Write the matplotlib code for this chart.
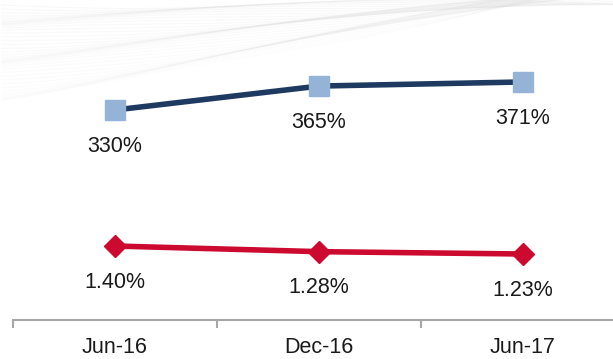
import numpy as np
import matplotlib
matplotlib.use("Agg")
import matplotlib.pyplot as plt

plt.rcParams['font.family'] = ['Liberation Sans', 'DejaVu Sans']

periods = ["Jun-16", "Dec-16", "Jun-17"]
coverage = [330, 365, 371]          # top series, %
npl_ratio = [1.40, 1.28, 1.23]      # bottom series, %

NAVY = "#1f3a60"
LIGHT_BLUE = "#95b3d7"
RED = "#cc0a30"
AXIS_GRAY = "#a6a6a6"
TEXT = "#1a1a1a"
FS = 15.5

W, H = 613, 359
fig = plt.figure(figsize=(W / 100, H / 100), dpi=100)

# faint swoosh pattern in the top-left background
bg = fig.add_axes([0, 0, 1, 1], zorder=0)
bg.set_xlim(0, W)
bg.set_ylim(H, 0)
bg.axis("off")
xs = np.linspace(-20, W + 20, 300)
for i in range(40):
    t = i / 39
    base = 5 + 95 * t
    y = base - (base - 2 + 25 * t) * (xs / W) ** 1.2 + 4 * np.sin(xs / 90 + i * 0.4)
    bg.plot(xs, y, color="#d8d8d8", lw=0.8, alpha=0.18 * (1 - 0.6 * t))

ax_bottom = 320 / H
ax = fig.add_axes([13 / W, 1 - ax_bottom, 612 / W, ax_bottom], zorder=2)
ax.patch.set_visible(False)
ax2 = ax.twinx()

x = np.arange(len(periods))

ax.plot(x, npl_ratio, color=RED, lw=4, marker="D", markersize=11.5,
        markerfacecolor=RED, markeredgecolor=RED, zorder=3, clip_on=False)
ax2.plot(x, coverage, color=NAVY, lw=4, marker="s", markersize=15,
         markerfacecolor=LIGHT_BLUE, markeredgecolor=LIGHT_BLUE, zorder=3, clip_on=False)

for xi, v in zip(x, npl_ratio):
    ax.annotate(f"{v:.2f}%", (xi, v), xytext=(0, -26), textcoords="offset points",
                ha="center", va="center", fontsize=FS, color=TEXT)
for xi, v in zip(x, coverage):
    ax2.annotate(f"{v}%", (xi, v), xytext=(0, -26), textcoords="offset points",
                 ha="center", va="center", fontsize=FS, color=TEXT)

ax.set_xlim(-0.5, 2.5)
ax.set_ylim(-0.174, 6.634)
ax2.set_ylim(22.5, 491)

for a in (ax, ax2):
    for side in ("top", "right", "left"):
        a.spines[side].set_visible(False)
    a.set_yticks([])
ax2.spines["bottom"].set_visible(False)
ax.spines["bottom"].set_color(AXIS_GRAY)
ax.spines["bottom"].set_linewidth(1.5)

ax.set_xticks([-0.5, 0.5, 1.5, 2.5])
ax.set_xticklabels([])
ax.tick_params(axis="x", which="major", length=6, width=1.5, color=AXIS_GRAY, direction="out")
ax.set_xticks(x, minor=True)
ax.set_xticklabels(periods, minor=True, fontsize=FS, color=TEXT)
ax.tick_params(axis="x", which="minor", length=0, pad=12)

fig.savefig("out.png", dpi=100)
